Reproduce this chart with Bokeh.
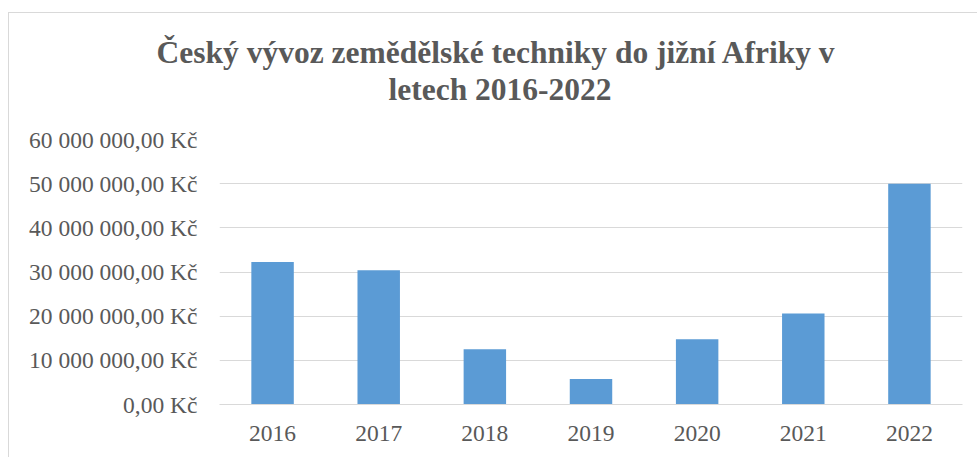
from bokeh.plotting import figure
from bokeh.models import ColumnDataSource, FactorRange, Range1d, FixedTicker, Title
from bokeh.embed import file_html
from bokeh.resources import INLINE

years = ["2016", "2017", "2018", "2019", "2020", "2021", "2022"]
export_czk = [32250000, 30400000, 12500000, 5800000, 14800000, 20600000, 50000000]
y_ticks = [0, 10000000, 20000000, 30000000, 40000000, 50000000, 60000000]
y_tick_labels = ["0,00 Kč", "10 000 000,00 Kč", "20 000 000,00 Kč", "30 000 000,00 Kč",
                 "40 000 000,00 Kč", "50 000 000,00 Kč", "60 000 000,00 Kč"]
title_lines = ["Český vývoz zemědělské techniky do jižní Afriky v", "letech 2016-2022"]

FONT = "Liberation Serif"
TXT = "#595959"
GRID = "#D9D9D9"

source = ColumnDataSource(data=dict(year=years, value=export_czk))

p = figure(
    x_range=FactorRange(*years, range_padding=0),
    y_range=Range1d(0, 60000000),
    width=969, height=445,
    output_backend="svg", toolbar_location=None, tools="",
    min_border_left=210, min_border_right=16, min_border_top=126, min_border_bottom=54,
)
p.margin = (12, 0, 0, 8)
p.styles = {"border-left": "1px solid #D9D9D9", "border-top": "1px solid #D9D9D9"}
p.outline_line_color = None
p.background_fill_color = "white"
p.border_fill_color = "white"

p.vbar(x="year", top="value", width=0.4, source=source, fill_color="#5B9BD5", line_color=None)

p.xgrid.grid_line_color = None
p.ygrid.grid_line_color = GRID
p.ygrid.grid_line_width = 1

p.yaxis.ticker = FixedTicker(ticks=y_ticks)
p.yaxis.major_label_overrides = {t: l for t, l in zip(y_ticks, y_tick_labels)}
p.yaxis.axis_line_color = None
p.yaxis.major_tick_line_color = None
p.yaxis.minor_tick_line_color = None
p.yaxis.major_label_standoff = 16

p.xaxis.axis_line_color = GRID
p.xaxis.axis_line_width = 1
p.xaxis.major_tick_line_color = None
p.xaxis.minor_tick_line_color = None
p.xaxis.major_label_standoff = 15

for ax in (p.xaxis, p.yaxis):
    ax.major_label_text_font = FONT
    ax.major_label_text_font_size = "23.5px"
    ax.major_label_text_color = TXT

p.title.visible = False
# line 2 first (closest to plot), then line 1
for txt, off, so in zip(reversed(title_lines), [169, -63], [65, -65]):
    p.add_layout(Title(text=txt, align="left", offset=off, standoff=so,
                       text_font=FONT, text_font_size="31.5px", text_font_style="bold",
                       text_color=TXT), "above")

open("out.html", "w").write(file_html(p, INLINE))
